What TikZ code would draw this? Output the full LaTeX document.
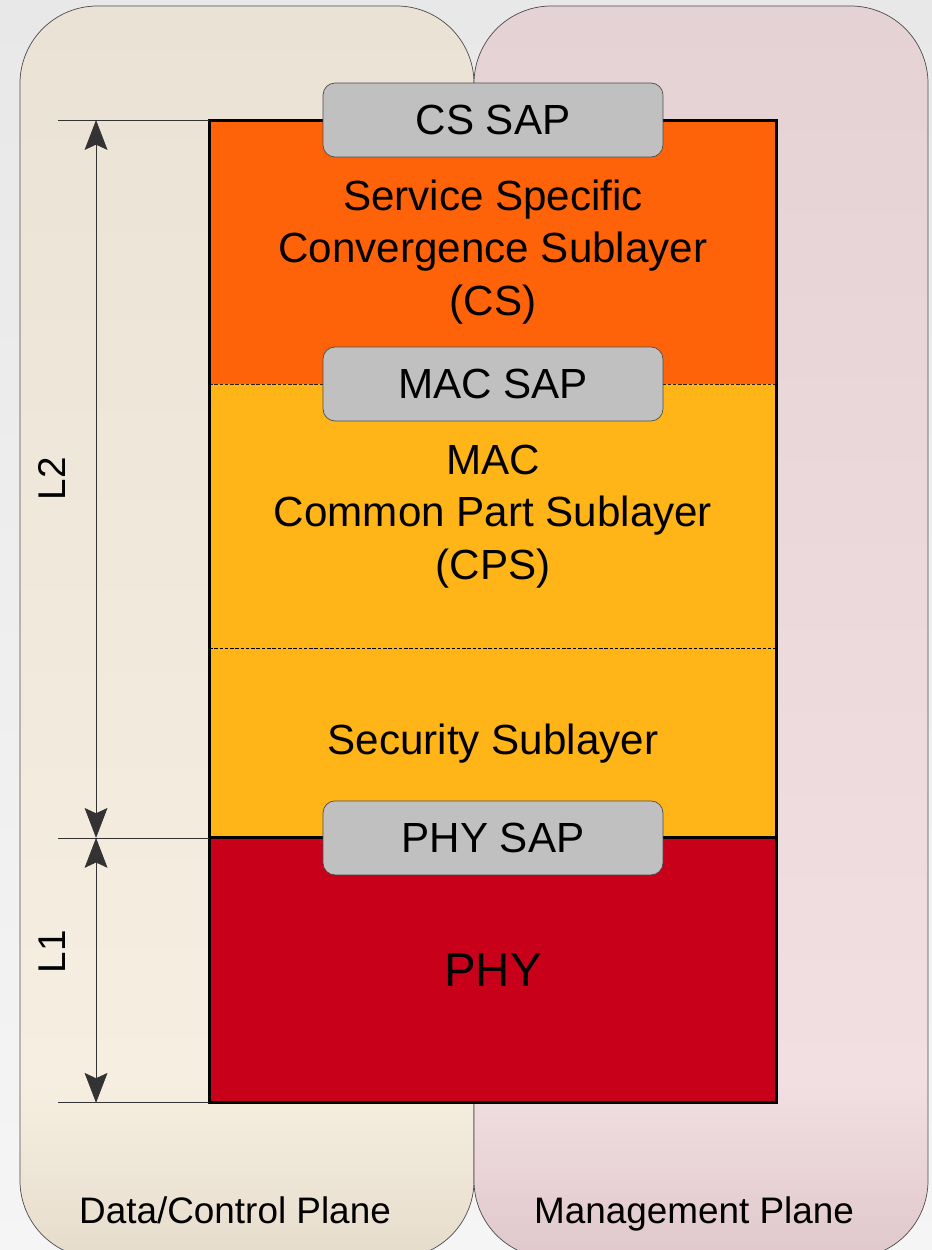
\documentclass[tikz,border=0pt]{standalone}
\usepackage{fontspec}
\setmainfont{Liberation Sans}
\usetikzlibrary{arrows.meta, positioning}
\definecolor{csorange}{RGB}{255,99,9}
\definecolor{macyellow}{RGB}{255,180,24}
\definecolor{phyred}{RGB}{200,0,26}
\definecolor{sapgray}{RGB}{192,192,192}
\definecolor{datatop}{RGB}{234,226,212}
\definecolor{datamid}{RGB}{246,239,225}
\definecolor{databot}{RGB}{230,220,204}
\definecolor{mgmttop}{RGB}{229,210,213}
\definecolor{mgmtmid}{RGB}{241,223,225}
\definecolor{mgmtbot}{RGB}{224,200,204}
\pgfdeclareverticalshading{datashade}{100bp}{color(0bp)=(databot); color(25bp)=(databot);
    color(32bp)=(datamid); color(75bp)=(datatop); color(100bp)=(datatop)}
\pgfdeclareverticalshading{mgmtshade}{100bp}{color(0bp)=(mgmtbot); color(25bp)=(mgmtbot);
    color(32bp)=(mgmtmid); color(75bp)=(mgmttop); color(100bp)=(mgmttop)}

\begin{document}
\begin{tikzpicture}[
    x=0.02cm, y=-0.02cm,
    % Styles
    plane/.style={
        draw=black!70, rounded corners=1.55cm
    },
    planelabel/.style={
        anchor=base, font=\fontsize{21}{25}\selectfont
    },
    layer/.style={
        minimum width=11.36cm, inner sep=0pt, outer sep=0pt,
        align=center, font=\fontsize{24}{30}\selectfont
    },
    sap/.style={
        draw=black!70, fill=sapgray, rounded corners=0.24cm,
        minimum width=6.8cm, minimum height=1.48cm,
        font=\fontsize{24}{30}\selectfont
    },
    dimline/.style={
        {Stealth[length=17pt,width=13pt,inset=3pt]}-{Stealth[length=17pt,width=13pt,inset=3pt]},
        black!80
    },
    dimlabel/.style={
        rotate=90, inner sep=0pt, text=black, font=\fontsize{22}{26}\selectfont
    }
]

\useasboundingbox (0,0) rectangle (932,1250);
\fill[top color=black!9, bottom color=black!4] (0,0) rectangle (932,1250);

% The two planes behind the stack
\begin{scope}
    \clip (0,0) rectangle (932,1250);
    \draw[plane, shading=datashade] (20,6) rectangle (474,1258);
    \draw[plane, shading=mgmtshade] (474,6) rectangle (928,1258);
\end{scope}
\node[planelabel] (dataplane) at (235,1223) {Data/Control Plane};
\node[planelabel] (mgmtplane) at (694,1223) {Management Plane};

% The layer stack
\node[layer, fill=csorange, minimum height=5.28cm] (cs) at (493,252)
    {Service Specific\\Convergence Sublayer\\(CS)};
\node[layer, fill=macyellow, minimum height=5.3cm, below=0pt of cs] (cps)
    {MAC\\Common Part Sublayer\\(CPS)};
\node[layer, fill=macyellow, minimum height=3.78cm, below=0pt of cps] (sec)
    {Security Sublayer};
\node[layer, fill=phyred, minimum height=5.3cm, below=0pt of sec,
    font=\fontsize{27}{32}\selectfont] (phy) {PHY};

\draw[black!75!brown, line width=0.5pt, dash pattern=on 2pt off 1pt]
    (cs.south west) -- (cs.south east);
\draw[black, line width=0.5pt, dash pattern=on 2pt off 1pt]
    (cps.south west) -- (cps.south east);
\draw[line width=1.7pt] (phy.north west) -- (phy.north east);
\draw[line width=1.7pt] (cs.north west) rectangle (phy.south east);

% Service access points
\node[sap] (cssap) at (cs.north) {CS SAP};
\node[sap] (macsap) at (cps.north) {MAC SAP};
\node[sap] (physap) at (phy.north) {PHY SAP};

% Dimension lines L2 and L1
\draw[black!80] (cs.north west) -- ++(-151,0) coordinate (l2top);
\draw[black!80] (phy.north west) -- ++(-151,0) coordinate (l2bot);
\draw[black!80] (phy.south west) -- ++(-151,0) coordinate (l1bot);
\draw[dimline] ([xshift=0.76cm]l2top) -- ([xshift=0.76cm]l2bot)
    node[xshift=-0.88cm, dimlabel, midway] (l2) {L2};
\draw[dimline] ([xshift=0.76cm]l2bot) -- ([xshift=0.76cm]l1bot)
    node[xshift=-0.88cm, dimlabel, pos=0.43] (l1) {L1};

\end{tikzpicture}
\end{document}
